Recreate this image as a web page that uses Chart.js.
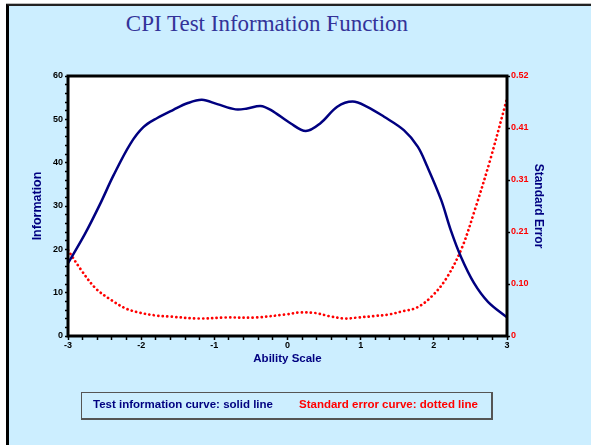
<!DOCTYPE html>
<html>
<head>
<meta charset="utf-8">
<script src="https://cdn.jsdelivr.net/npm/chart.js@4"></script>
<style>
  html, body { margin: 0; padding: 0; background: #fff; }
  #page { position: relative; width: 591px; height: 445px; overflow: hidden; background: #fff; }
  #frame {
    position: absolute; left: 6px; top: 4px; right: -4px; bottom: -4px;
    background: #cceeff; border-left: 3px solid #000; border-top: 2px solid #222;
    box-shadow: 0 -1px 0 #bbb;
  }
  #title {
    position: absolute; left: 67px; width: 400px; top: 11px; text-align: center;
    font-family: 'Liberation Serif', 'Times New Roman', serif; font-size: 23px; color: #333399;
  }
  #chart { position: absolute; left: 0; top: 0; }
  #legend {
    position: absolute; left: 81px; top: 392px; width: 409px; height: 25px;
    border: 1px solid #555; border-right-width: 2px; border-bottom-width: 2px;
    font-family: 'Liberation Sans', Arial, sans-serif; font-weight: bold; font-size: 11.5px;
  }
  #legend span { position: absolute; top: 5px; white-space: nowrap; }
</style>
</head>
<body>
<div id="page">
  <div id="frame"></div>
  <div id="title">CPI Test Information Function</div>
  <canvas id="chart" width="591" height="445"></canvas>
  <div id="legend">
    <span style="left:11px;color:#000080">Test information curve: solid line</span>
    <span style="left:217px;color:#ff0000">Standard error curve: dotted line</span>
  </div>
</div>
<script>
// test information curve (solid)
const abilityInfo = [-3, -2.77, -2.56, -2.38, -2.15, -1.97, -1.78, -1.56, -1.37, -1.17, -0.96, -0.71, -0.55, -0.37, -0.23, 0.04, 0.25, 0.45, 0.68, 0.89, 1.09, 1.32, 1.59, 1.78, 1.91, 2.10, 2.23, 2.37, 2.55, 2.74, 3.0];
const information = [16.8, 23.5, 30.5, 37.0, 44.3, 48.2, 50.3, 52.2, 53.7, 54.5, 53.5, 52.3, 52.5, 53.1, 52.2, 49.1, 47.3, 49.1, 52.9, 54.1, 52.9, 50.6, 47.5, 43.7, 39.1, 31.4, 24.5, 18.3, 12.2, 7.9, 4.3];

// standard error curve (dotted)
const abilitySE = [-3, -2.82, -2.62, -2.41, -2.21, -2.03, -1.80, -1.62, -1.21, -0.85, -0.44, -0.03, 0.17, 0.38, 0.56, 0.78, 0.96, 1.19, 1.38, 1.56, 1.77, 1.97, 2.17, 2.38, 2.56, 2.77, 3.0];
const standardError = [0.172, 0.132, 0.095, 0.072, 0.055, 0.047, 0.041, 0.039, 0.035, 0.037, 0.037, 0.043, 0.047, 0.046, 0.040, 0.035, 0.037, 0.040, 0.043, 0.049, 0.057, 0.079, 0.115, 0.175, 0.252, 0.352, 0.475];

// right axis tick labels
const seTickValues = [0, 0.104, 0.208, 0.312, 0.416, 0.52];
const seTickLabels = ['0', '0.10', '0.21', '0.31', '0.41', '0.52'];

const tickFont = { family: "'Liberation Sans', Arial, sans-serif", size: 9, weight: 'bold' };
const titleFont = size => ({ family: "'Liberation Sans', Arial, sans-serif", size, weight: 'bold' });

const plotFrame = {
  id: 'plotFrame',
  beforeDraw(chart) {
    const { ctx, chartArea: a } = chart;
    ctx.save();
    ctx.fillStyle = '#fff';
    ctx.fillRect(a.left, a.top, a.right - a.left, a.bottom - a.top);
    ctx.restore();
  },
  afterDraw(chart) {
    const { ctx, chartArea: a } = chart;
    ctx.save();
    ctx.strokeStyle = '#000';
    ctx.lineWidth = 3;
    ctx.strokeRect(a.left, a.top, a.right - a.left, a.bottom - a.top);
    ctx.restore();
  }
};

new Chart(document.getElementById('chart'), {
  type: 'line',
  data: {
    datasets: [
      {
        label: 'Information',
        data: abilityInfo.map((x, i) => ({ x, y: information[i] })),
        yAxisID: 'y',
        borderColor: '#000080',
        borderWidth: 2.5,
        pointRadius: 0,
        tension: 0.35
      },
      {
        label: 'Standard Error',
        data: abilitySE.map((x, i) => ({ x, y: standardError[i] })),
        yAxisID: 'y2',
        borderColor: '#ff0000',
        borderWidth: 2.7,
        borderDash: [0.1, 4.4],
        borderCapStyle: 'round',
        pointRadius: 0,
        tension: 0.35
      }
    ]
  },
  options: {
    responsive: false,
    animation: false,
    devicePixelRatio: 1,
    layout: { padding: { left: 30, right: 45, top: 76, bottom: 79 } },
    plugins: { legend: { display: false }, tooltip: { enabled: false } },
    scales: {
      x: {
        type: 'linear', min: -3, max: 3,
        afterFit: s => { s.height = 30; },
        border: { display: false },
        grid: { drawOnChartArea: false, tickLength: 4, tickColor: '#000', tickWidth: 1.5 },
        ticks: {
          stepSize: 0.2, autoSkip: false, maxRotation: 0, padding: 0,
          color: '#000', font: tickFont,
          callback: v => Math.abs(v - Math.round(v)) < 1e-6 ? String(Math.round(v)) : ''
        },
        title: { display: true, text: 'Ability Scale', color: '#000080', font: titleFont(11.5), padding: 0 }
      },
      y: {
        position: 'left', min: 0, max: 60,
        afterFit: s => { s.width = 38; },
        border: { display: false },
        grid: { drawOnChartArea: false, tickLength: 3, tickColor: '#000', tickWidth: 1.5 },
        ticks: {
          stepSize: 2, autoSkip: false, padding: 2, color: '#000', font: tickFont,
          callback: v => v % 10 === 0 ? String(v) : ''
        },
        title: { display: true, text: 'Information', color: '#000080', font: titleFont(12.5), padding: 0 }
      },
      y2: {
        position: 'right', min: 0, max: 0.52,
        afterFit: s => { s.width = 39; },
        afterBuildTicks: s => { s.ticks = seTickValues.map(v => ({ value: v })); },
        border: { display: false },
        grid: { drawOnChartArea: false, tickLength: 3, tickColor: '#000', tickWidth: 1.5 },
        ticks: {
          autoSkip: false, padding: 1, color: '#ff0000', font: tickFont,
          callback: (v, i) => seTickLabels[i]
        },
        title: { display: true, text: 'Standard Error', color: '#000080', font: titleFont(12), padding: 0 }
      }
    }
  },
  plugins: [plotFrame]
});
</script>
</body>
</html>
